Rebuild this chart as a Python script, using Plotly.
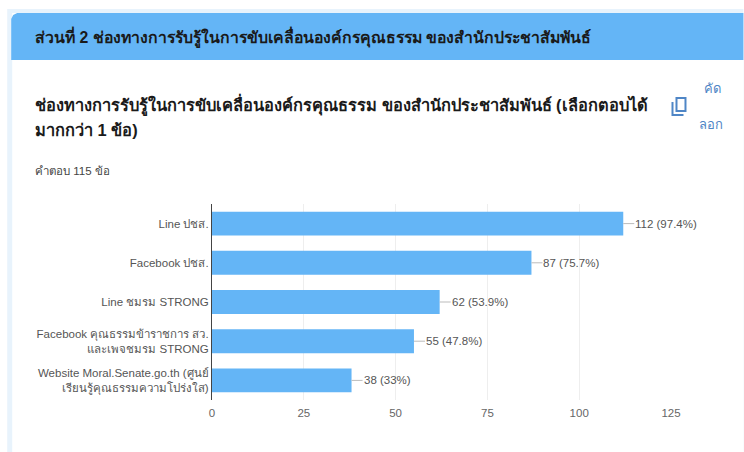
import plotly.graph_objects as go

categories = ["Line ปชส.", "Facebook ปชส.", "Line ชมรม STRONG",
              "Facebook คุณธรรมข้าราชการ สว.<br>และเพจชมรม STRONG",
              "Website Moral.Senate.go.th (ศูนย์<br>เรียนรู้คุณธรรมความโปร่งใส)"]
values = [112, 87, 62, 55, 38]
percents = ["97.4%", "75.7%", "53.9%", "47.8%", "33%"]
x_ticks = [0, 25, 50, 75, 100, 125]

W, H = 744, 452
L, R, T, B = 212, 671.5, 204, 400
FONT = "Liberation Sans, Arial, sans-serif"
GREY = "#555555"
ICON = "#4f86c6"

def px(x):
    return (x - L) / (R - L)

def py(y):
    return (B - y) / (B - T)

fig = go.Figure(go.Bar(
    y=categories, x=values, orientation="h", marker=dict(color="#64b5f6", line_width=0),
    error_x=dict(type="data", array=[3] * len(values), arrayminus=[0] * len(values), symmetric=False,
                 thickness=1, width=0, color="#bbbbbb"),
    hoverinfo="skip", showlegend=False))

annotations = [dict(x=v, y=c, xref="x", yref="y", text=f"{v} ({p})", showarrow=False,
                    xanchor="left", xshift=10, font=dict(size=11.5, color=GREY, family=FONT))
               for c, v, p in zip(categories, values, percents)]

def page_text(x, y, text, size, color, weight=400, anchor="left"):
    annotations.append(dict(x=px(x), y=py(y), xref="paper", yref="paper", text=text, showarrow=False,
                            xanchor=anchor, yanchor="middle", align="left", xshift=0,
                            font=dict(size=size, color=color, family=FONT, weight=weight)))

def rect(x0, y0, x1, y1, color):
    return dict(type="rect", xref="paper", yref="paper", x0=px(x0), x1=px(x1),
                y0=py(y0), y1=py(y1), fillcolor=color, line_width=0, layer="below")

def path(points, close=False, fill=None, line=None):
    d = "M" + " L".join(f"{px(x):.5f},{py(y):.5f}" for x, y in points) + (" Z" if close else "")
    return dict(type="path", xref="paper", yref="paper", path=d, layer="below",
                fillcolor=fill or "rgba(0,0,0,0)", line=dict(color=line or "rgba(0,0,0,0)", width=2 if line else 0))

page_text(33, 37, "ส่วนที่ 2 ช่องทางการรับรู้ในการขับเคลื่อนองค์กรคุณธรรม ของสำนักประชาสัมพันธ์", 15.8, "#1a1a1a", 700)
page_text(33, 105, "ช่องทางการรับรู้ในการขับเคลื่อนองค์กรคุณธรรม ของสำนักประชาสัมพันธ์ (เลือกตอบได้", 16.4, "#1a1a1a", 700)
page_text(33, 130, "มากกว่า 1 ข้อ)", 16.4, "#1a1a1a", 700)
page_text(33, 171, "คำตอบ 115 ข้อ", 11.5, "#444444")
page_text(713, 88, "คัด", 13, ICON, 400, "center")
page_text(712, 124, "ลอก", 13, ICON, 400, "center")

header = path([(11, 60), (11, 19), (13, 15), (17, 13), (744, 13), (744, 60)], True, "#64b5f6")
icon_front = path([(677, 98), (686, 98), (686, 111), (677, 111)], True, None, ICON)
icon_back = path([(673, 102), (673, 115), (684, 115)], False, None, ICON)

fig.update_layout(
    template="none",
    width=W, height=H, margin=dict(l=L, r=W - R, t=T, b=H - B),
    paper_bgcolor="white", plot_bgcolor="white", bargap=0.39, showlegend=False,
    font=dict(family=FONT, size=12, color=GREY),
    annotations=annotations,
    shapes=[rect(7, 9, 744, 452, "#e8f3fc"), rect(12, 13, 744, 452, "white"), header, icon_front, icon_back],
    xaxis=dict(range=[0, 125], tickvals=x_ticks, showgrid=True, gridcolor="#eeeeee", gridwidth=1, zeroline=False,
               showline=False, ticks="", tickfont=dict(size=11.5, color="#666666"), automargin=False,
               ticklabelstandoff=4),
    yaxis=dict(autorange="reversed", showgrid=False, showline=True, linecolor="#444444", linewidth=1,
               ticks="", tickfont=dict(size=11.5, color=GREY), automargin=False),
)
fig.write_html("out.html", config=dict(displayModeBar=False),
               post_script="document.body.style.margin='0';document.body.style.overflow='hidden';")
